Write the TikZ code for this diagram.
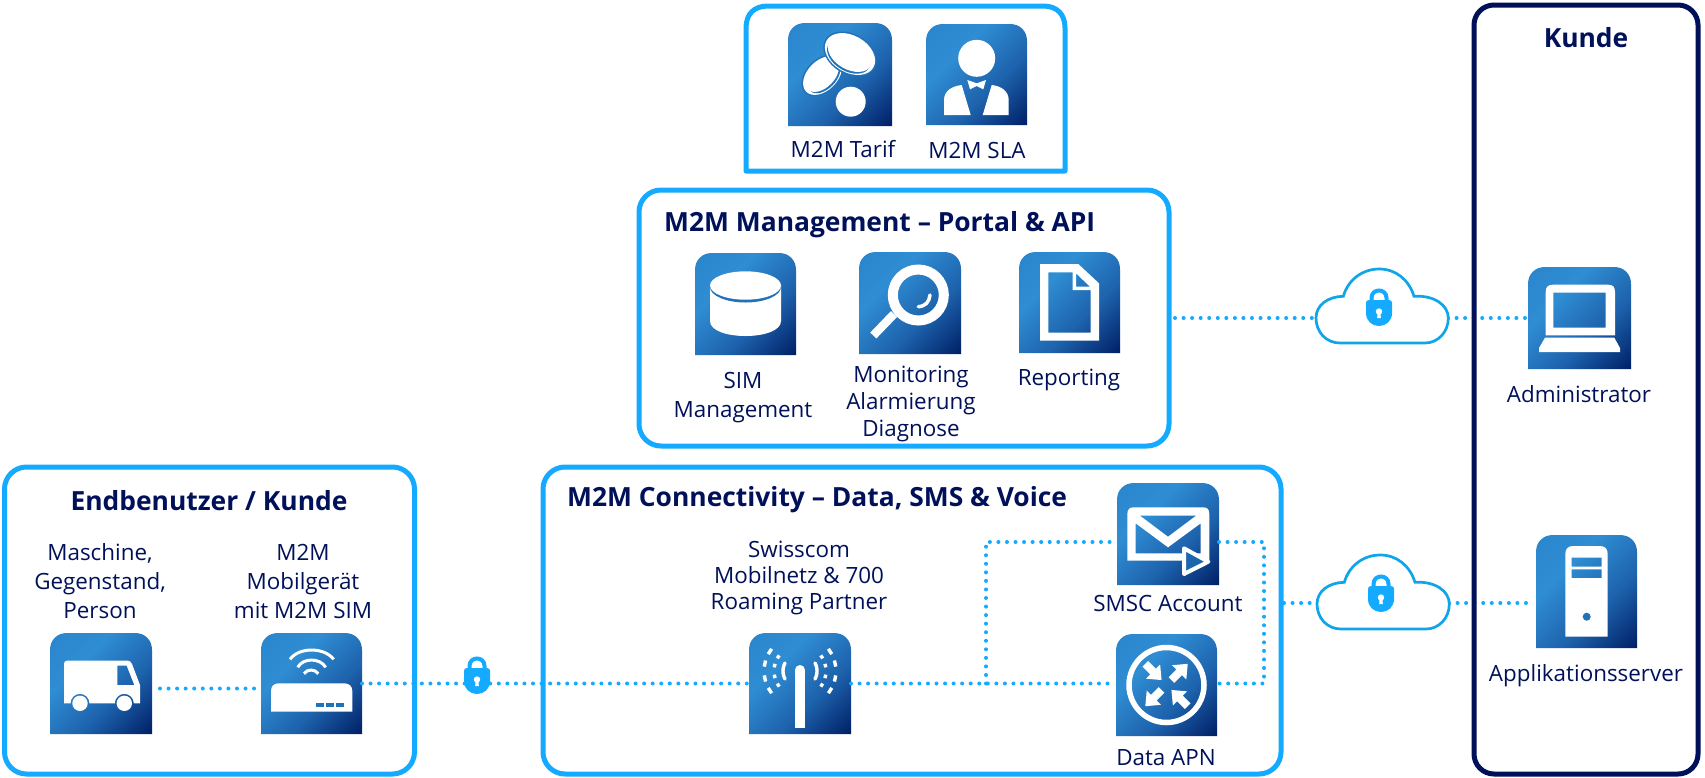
\documentclass[tikz,border=0pt]{standalone}
\usepackage{fontspec}
\setmainfont{Open Sans}
\definecolor{sky}{HTML}{14AAFF}
\definecolor{cloudline}{HTML}{10A5E8}
\definecolor{navy}{HTML}{00115A}
\definecolor{midblue}{HTML}{2272B8}
\definecolor{gA}{HTML}{001F66}
\definecolor{gB}{HTML}{1D62AC}
\definecolor{gC}{HTML}{2F8DD3}
\definecolor{gD}{HTML}{2A85CC}
\pgfdeclareverticalshading{icongrad}{100bp}{color(0bp)=(gA); color(14.6bp)=(gA); color(39.4bp)=(gB); color(64.2bp)=(gC); color(85.4bp)=(gD); color(100bp)=(gD)}
\tikzset{
  framebox/.style={draw=sky,line width=5pt,rounded corners=22pt,inner sep=0pt,outer sep=0pt},
  kundebox/.style={draw=navy,line width=5pt,rounded corners=20pt,inner sep=0pt,outer sep=0pt},
  iconnode/.style={inner sep=0pt,outer sep=0pt},
  dots/.style={draw=sky,line width=4pt,line cap=round,dash pattern=on 0pt off 8.55pt},
  lbl/.style={text=navy,align=center,inner sep=0pt,font=\fontsize{22.4}{27}\selectfont},
  ttl/.style={text=navy,align=center,inner sep=0pt,font=\fontsize{26.4}{30}\selectfont\bfseries},
}
% name, x, y, w, h, glyph
\newcommand{\iconbox}[6]{%
  \node[iconnode,minimum width=#4pt,minimum height=#5pt] (#1) at ({#2+#4/2},{#3+#5/2}) {};
  \begin{scope}[shift={(#2,#3)}]
    \path[shade,shading=icongrad,shading angle=45]
      (0,#5) -- (0,17) .. controls (0,7) and (7,0) .. (17,0) -- ({#4-17},0) .. controls ({#4-7},0) and (#4,7) .. (#4,17) -- (#4,#5) -- cycle;
    #6
  \end{scope}}
\newcommand{\lockglyph}{%
  \draw[sky,line width=4pt] (-7.5,-4) -- (-7.5,-9) .. controls (-7.5,-19) and (7.5,-19) .. (7.5,-9) -- (7.5,-4);
  \fill[sky] (-13,-4) .. controls (-13,-6) and (-12,-7) .. (-10,-7) -- (10,-7) .. controls (12,-7) and (13,-6) .. (13,-4) -- (13,6) .. controls (13,14) and (7,19) .. (0,19) .. controls (-7,19) and (-13,14) .. (-13,6) -- cycle;
  \fill[white] (0,4.5) circle (3.2pt);
  \fill[white] (-1.5,4.5) -- (1.5,4.5) -- (1.8,11) -- (-1.8,11) -- cycle;}
\newcommand{\cloudshape}{%
  \draw[cloudline,fill=white,line width=2.7pt] (24,74) .. controls (10,74) and (0,63) .. (0,49) .. controls (0,36) and (12,27.5) .. (27.3,27.3) .. controls (32,11) and (46,0) .. (63.3,0) .. controls (80,0) and (93,11) .. (98,27.3) .. controls (118,26) and (132.3,36) .. (132.3,49) .. controls (132.3,63) and (122,74) .. (109,74) -- cycle;}
\newcommand{\coin}[6]{% x y rot a b offset
  \begin{scope}[shift={(#1,#2)},rotate=#3]
    \fill[midblue] (0,0) ellipse ({#4pt+1.6pt} and {#5pt+1.6pt});
    \fill[white] (0,0) ellipse (#4pt and #5pt);
    \fill[midblue] (0,#6) ellipse ({#4pt-3.5pt} and {#5pt-3.5pt});
    \fill[white] (0,{#6-2.6}) ellipse ({#4pt-3pt} and {#5pt-3pt});
  \end{scope}}
\begin{document}
\begin{tikzpicture}[x=1pt,y=-1pt]
\useasboundingbox (0,0) rectangle (1705,777);
% ---------- icons
\iconbox{tarif}{788}{23}{104}{103}{%
  \coin{34.5}{52.5}{45}{23}{15}{2.5}
  \coin{62}{31}{-30}{27}{18.5}{2.5}
  \fill[white] (62.7,78.7) circle (15pt);}
\iconbox{sla}{926}{24}{101}{101}{%
  \fill[white] (50.7,34.3) circle (18.5pt);
  \fill[white] (41.3,56) -- (50.7,59.3) -- (60,56) -- (57.3,65.3) -- (50.7,62) -- (44,65.3) -- cycle;
  \fill[white] (18,91) -- (18,76) .. controls (18,67) and (26,62) .. (35.7,61) -- (44.7,91) -- cycle;
  \fill[white] (56.7,91) -- (65.7,61) .. controls (75,62) and (82.7,67) .. (82.7,76) -- (82.7,91) -- cycle;}
\iconbox{sim}{695}{253}{101}{102}{%
  \fill[white] (15,32) -- (15,68) .. controls (15,88) and (86,88) .. (86,68) -- (86,32) -- cycle;
  \fill[midblue] (50.5,34) ellipse (35.5pt and 15.5pt);
  \fill[white] (50.5,32.5) ellipse (35.5pt and 14.2pt);}
\iconbox{monitor}{859}{252}{102}{102}{%
  \draw[white,line width=10pt] (59.3,43) circle (25.5pt);
  \draw[white,line width=8.5pt] (35,62) -- (14.3,83.5);
  \draw[white,line width=3.5pt,line cap=round] (59.3,54.7) .. controls (67,54) and (70,50) .. (71,43);}
\iconbox{report}{1019}{252}{101}{101}{%
  \fill[white,even odd rule] (21,12) -- (59.3,12) -- (80,31.3) -- (80,88.7) -- (21,88.7) -- cycle
    (29.3,20.3) -- (53.7,20.3) -- (53.7,38) -- (71.7,38) -- (71.7,80.7) -- (29.3,80.7) -- cycle
    (57,21.3) -- (57,34.7) -- (71,34.7) -- cycle;}
\iconbox{admin}{1528}{267}{103}{102}{%
  \fill[white,even odd rule] (17.7,68.3) -- (17.7,25) .. controls (17.7,20) and (20,17.7) .. (25,17.7) -- (80,17.7) .. controls (85,17.7) and (87,20) .. (87,25) -- (87,68.3) -- cycle
    (25.3,25.7) -- (77.7,25.7) -- (77.7,60.7) -- (25.3,60.7) -- cycle;
  \fill[white] (17,70.7) -- (86.3,70.7) -- (92,81) -- (92,85) -- (11,85) -- (11,81) -- cycle;}
\iconbox{van}{50}{633}{102}{101}{%
  \fill[white,even odd rule] (14,70.3) -- (14,31) .. controls (14,29) and (15,27.7) .. (17,27.7) -- (78,27.7) .. controls (80,27.7) and (81,29) .. (82,31) -- (90,52) -- (90,70.3) -- (83.8,70.3)
    .. controls (83.8,65.1) and (79.5,60.8) .. (74.3,60.8) .. controls (69.1,60.8) and (64.8,65.1) .. (64.8,70.3) -- (39.5,70.3)
    .. controls (39.5,65.1) and (35.2,60.8) .. (30,60.8) .. controls (24.8,60.8) and (20.5,65.1) .. (20.5,70.3) -- cycle
    (67.3,32.7) -- (76.7,32.7) -- (84.3,52) -- (67.3,52) -- cycle;
  \fill[white] (30,70.3) circle (7.7pt);
  \fill[white] (74.3,70.3) circle (7.7pt);}
\iconbox{router}{261}{633}{101}{101}{%
  \fill[white] (10,78.7) -- (10,58) .. controls (10,53) and (13,50.3) .. (18,50.3) -- (83,50.3) .. controls (88,50.3) and (91.3,53) .. (91.3,58) -- (91.3,78.7) -- cycle;
  \fill[midblue] (54.7,69.7) rectangle (63,74);
  \fill[midblue] (65,69.7) rectangle (73,74);
  \fill[midblue] (75,69.7) rectangle (83,74);
  \draw[white,line width=3pt] (29,26.3) .. controls (38,13.9) and (63,13.9) .. (72.7,26.3);
  \draw[white,line width=3pt] (36.7,34.3) .. controls (42,24.6) and (59,24.6) .. (64.7,34.3);
  \draw[white,line width=3pt] (43,40.7) .. controls (46,35.8) and (54,35.8) .. (57.3,40.7);}
\iconbox{tower}{749}{633}{102}{101}{%
  \draw[white,line width=10pt,line cap=round] (51,37) -- (51,90);
  \fill[white] (46,85) rectangle (56,95);
  \draw[white,line width=3.4pt,line cap=round,domain=-28:28,samples=9] plot ({51+17*cos(\x)},{38+17*sin(\x)});
  \draw[white,line width=3.4pt,line cap=round,domain=-28:28,samples=9] plot ({51-17*cos(\x)},{38+17*sin(\x)});
  \foreach \s in {1,-1}{\foreach \a in {-33,-12,12,33}{
    \draw[white,line width=3.4pt] ({51+\s*26*cos(\a-4)},{38+26*sin(\a-4)}) -- ({51+\s*26*cos(\a+4)},{38+26*sin(\a+4)});
    \draw[white,line width=3.4pt] ({51+\s*36*cos(\a-5)},{38+36*sin(\a-5)}) -- ({51+\s*36*cos(\a+5)},{38+36*sin(\a+5)});
  }}}
\iconbox{sms}{1117}{483}{102}{102}{%
  \fill[white,even odd rule] (10.3,31) .. controls (10.3,26) and (13,24.3) .. (17,24.3) -- (86,24.3) .. controls (90,24.3) and (92.3,26) .. (92.3,31) -- (92.3,77.7) -- (10.3,77.7) -- cycle
    (23,32.7) -- (79,32.7) -- (51,53.7) -- cycle
    (18.7,40.3) -- (51,64.3) -- (83.7,40.3) -- (83.7,70.3) -- (18.7,70.3) -- cycle;
  \draw[white,fill=midblue!85!gA,line width=4pt,line join=round] (67,65.3) -- (91.3,78.7) -- (67,91) -- cycle;}
\iconbox{apn}{1116}{634}{101}{102}{%
  \draw[white,line width=5.5pt] (50.5,51) circle (37.5pt);
  \foreach \r in {45,225}{\begin{scope}[shift={(50.5,51)},rotate=\r]
    \fill[white] (7,-4) -- (18,-4) -- (18,-10) -- (30,0) -- (18,10) -- (18,4) -- (7,4) -- cycle;
  \end{scope}}
  \foreach \r in {135,-45}{\begin{scope}[shift={(50.5,51)},rotate=\r]
    \fill[white] (30,-4) -- (19,-4) -- (19,-10) -- (7,0) -- (19,10) -- (19,4) -- (30,4) -- cycle;
  \end{scope}}}
\iconbox{server}{1536}{535}{101}{113}{%
  \fill[white,even odd rule] (29.3,101.7) -- (29.3,19) .. controls (29.3,14) and (32,11) .. (37,11) -- (64,11) .. controls (69,11) and (71.7,14) .. (71.7,19) -- (71.7,101.7) -- cycle
    (35.7,22.7) -- (65.7,22.7) -- (65.7,31.7) -- (35.7,31.7) -- cycle
    (35.7,34.3) -- (65.7,34.3) -- (65.7,43) -- (35.7,43) -- cycle;
  \fill[midblue] (50.7,81.7) circle (4pt);}
% ---------- anchors for the wires
\coordinate (jl) at (986,683.5);
\coordinate (jt) at (986,542);
\coordinate (jr) at (1264,542);
\coordinate (jb) at (1264,683.5);
\node[iconnode,minimum width=132pt,minimum height=0pt] (cloudA) at (1382,318) {};
\node[iconnode,minimum width=132pt,minimum height=0pt] (cloudB) at (1383,603) {};
\node[iconnode,minimum width=26pt,minimum height=38pt] (lockC) at (477,675) {};
\node[iconnode,minimum width=530pt,minimum height=256pt] (mgmtanchor) at (904,318) {};
\node[iconnode,minimum width=738pt,minimum height=307pt] (connanchor) at (912,620.5) {};
% ---------- wires
\draw[dots] ([xshift=8pt,yshift=-5pt]van.east) -- ([xshift=-4pt,yshift=-5pt]router.west);
\draw[dots] (router.east) -- (tower.west);
\draw[dots] (tower.east) -- (apn.west |- tower.east);
\draw[dots] (jl) -- (jt) -- (sms.west |- jt);
\draw[dots] (sms.east |- jr) -- (jr) -- (jb) -- (apn.east |- jb);
\draw[dots] ([xshift=6pt]mgmtanchor.east) -- (cloudA.west);
\draw[dots] (cloudA.east) -- (admin.west |- cloudA.east);
\draw[dots] ([xshift=3pt]connanchor.east |- cloudB.west) -- (cloudB.west);
\draw[dots] (cloudB.east) -- ([xshift=-9pt]server.west |- cloudB.east);
% ---------- frames
\node[framebox,minimum width=410pt,minimum height=307pt] (endbox) at (209.5,620.5) {};
\node[framebox,minimum width=738pt,minimum height=307pt] (connbox) at (912,620.5) {};
\node[framebox,minimum width=530pt,minimum height=256pt] (mgmtbox) at (904,318) {};
\node[kundebox,minimum width=224pt,minimum height=769pt] (kundebx) at (1586,389.5) {};
\draw[sky,line width=5pt,line join=round] (746,171) -- (746,28) .. controls (746,14) and (754,6) .. (768,6) -- (1043,6) .. controls (1057,6) and (1065,14) .. (1065,28) -- (1065,171) -- cycle;
% ---------- clouds and locks
\begin{scope}[shift={(1316,269)}]\cloudshape\end{scope}
\begin{scope}[shift={(1317,555)}]\cloudshape\end{scope}
\begin{scope}[shift={(1379,307)}]\lockglyph\end{scope}
\begin{scope}[shift={(1381,593)}]\lockglyph\end{scope}
\begin{scope}[shift={(477,675)}]\lockglyph\end{scope}
% ---------- labels
\node[lbl] (tTarif) at (843,149) {M2M Tarif};
\node[lbl] (tSLA) at (977,150) {M2M SLA};
\node[ttl,anchor=west] (tMgmt) at (664,225) {M2M Management – Portal \& API};
\node[lbl,font=\fontsize{22.4}{29}\selectfont] (tSim) at (743,398) {SIM\\Management};
\node[lbl] (tMon) at (911,404) {Monitoring\\Alarmierung\\Diagnose};
\node[lbl] (tRep) at (1069,380) {Reporting};
\node[ttl] (tKunde) at (1586,38) {Kunde};
\node[lbl] (tAdmin) at (1579,394) {Administrator};
\node[lbl] (tApp) at (1586,676) {Applikationsserver};
\node[ttl] (tEnd) at (209,501) {Endbenutzer / Kunde};
\node[lbl,font=\fontsize{22.4}{29}\selectfont] (tMasch) at (100,581.5) {Maschine,\\Gegenstand,\\Person};
\node[lbl,font=\fontsize{22.4}{29}\selectfont] (tMob) at (303,581.5) {M2M\\Mobilgerät\\mit M2M SIM};
\node[ttl,anchor=west] (tConn) at (567,500) {M2M Connectivity – Data, SMS \& Voice};
\node[lbl,font=\fontsize{22.4}{26}\selectfont] (tSwiss) at (799,578) {Swisscom\\Mobilnetz \& 700\\Roaming Partner};
\node[lbl] (tSmsc) at (1168,603) {SMSC Account};
\node[lbl] (tApn) at (1166,758) {Data APN};
\end{tikzpicture}
\end{document}
